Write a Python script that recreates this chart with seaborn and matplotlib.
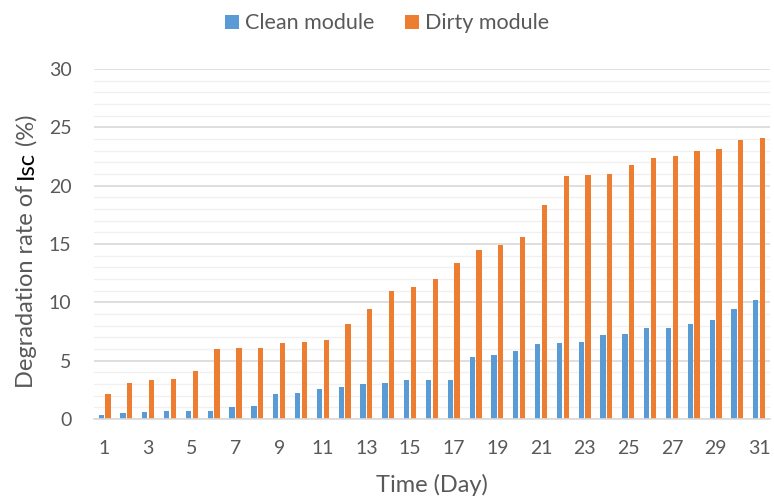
import matplotlib
matplotlib.use("Agg")
import matplotlib.pyplot as plt
import seaborn as sns
import pandas as pd
import numpy as np

days = list(range(1, 32))
clean = [0.3, 0.5, 0.6, 0.7, 0.7, 0.7, 1.0, 1.1, 2.1, 2.2, 2.6, 2.7, 3.0, 3.1, 3.3, 3.3,
         3.3, 5.3, 5.5, 5.8, 6.4, 6.5, 6.6, 7.2, 7.3, 7.8, 7.8, 8.1, 8.5, 9.4, 10.2]
dirty = [2.1, 3.1, 3.3, 3.4, 4.1, 6.0, 6.1, 6.1, 6.5, 6.6, 6.8, 8.1, 9.4, 11.0, 11.3, 12.0,
         13.4, 14.5, 14.9, 15.6, 18.3, 20.8, 20.9, 21.0, 21.8, 22.4, 22.5, 23.0, 23.1, 23.9, 24.1]
series_names = ["Clean module", "Dirty module"]
colors = ["#5B9BD5", "#ED7D31"]
y_ticks = [0, 5, 10, 15, 20, 25, 30]

df = pd.DataFrame({
    "Day": days * 2,
    "Value": clean + dirty,
    "Series": [series_names[0]] * len(days) + [series_names[1]] * len(days),
})

sns.set_theme(style="white")
plt.rcParams["font.family"] = ["Lato", "DejaVu Sans"]
text_color = "#595959"

fig = plt.figure(figsize=(7.74, 5.03), dpi=100)
ax = fig.add_axes([0.121, 0.167, 0.874, 0.696])

sns.barplot(data=df, x="Day", y="Value", hue="Series", palette=colors,
            width=0.62, gap=0.22, ax=ax, saturation=1, legend=True,
            edgecolor="none")

ax.set_ylim(0, 30)
ax.set_xlim(-0.5, len(days) - 0.5)
ax.set_yticks(y_ticks)
ax.set_yticks(np.arange(0, 31, 1), minor=True)
ax.set_yticklabels([str(t) for t in y_ticks], color=text_color, fontsize=14)
ax.set_xticks(range(0, len(days), 2))
ax.set_xticklabels([str(d) for d in days[::2]], color=text_color, fontsize=14)
ax.tick_params(axis="both", which="both", length=0)
ax.tick_params(axis="x", pad=15)
ax.tick_params(axis="y", pad=16)

ax.grid(axis="y", which="major", color="#D9D9D9", linewidth=1.2)
ax.grid(axis="y", which="minor", color="#F0F0F0", linewidth=1.0)
ax.set_axisbelow(True)
for s in ["top", "right", "left"]:
    ax.spines[s].set_visible(False)
ax.spines["bottom"].set_color("#D9D9D9")
ax.spines["bottom"].set_linewidth(1.2)

ax.set_xlabel("Time (Day)", color=text_color, fontsize=17, labelpad=12)
ax.set_ylabel("")

# y-label with black "Isc"
lab_fs = 17
t1 = fig.text(0.034, 0.228, "Degradation rate of ", rotation=90, color=text_color,
              fontsize=lab_fs, ha="center", va="bottom")
t2 = ax.annotate("Isc", xy=(0.5, 1), xycoords=t1, rotation=90, color="black",
                 fontsize=lab_fs, ha="center", va="bottom", annotation_clip=False)
t3 = ax.annotate("(%)", xy=(0.5, 1), xycoords=t2, xytext=(0, 4), textcoords="offset points",
                 rotation=90, color=text_color,
                 fontsize=lab_fs, ha="center", va="bottom", annotation_clip=False)

leg = ax.legend(loc="upper center", bbox_to_anchor=(0.5, 1.012), bbox_transform=fig.transFigure,
                ncol=2, frameon=False, fontsize=15.5, handlelength=0.65, handleheight=0.65,
                handletextpad=0.3, columnspacing=1.4)
for txt in leg.get_texts():
    txt.set_color(text_color)

fig.savefig("out.png", dpi=100)
